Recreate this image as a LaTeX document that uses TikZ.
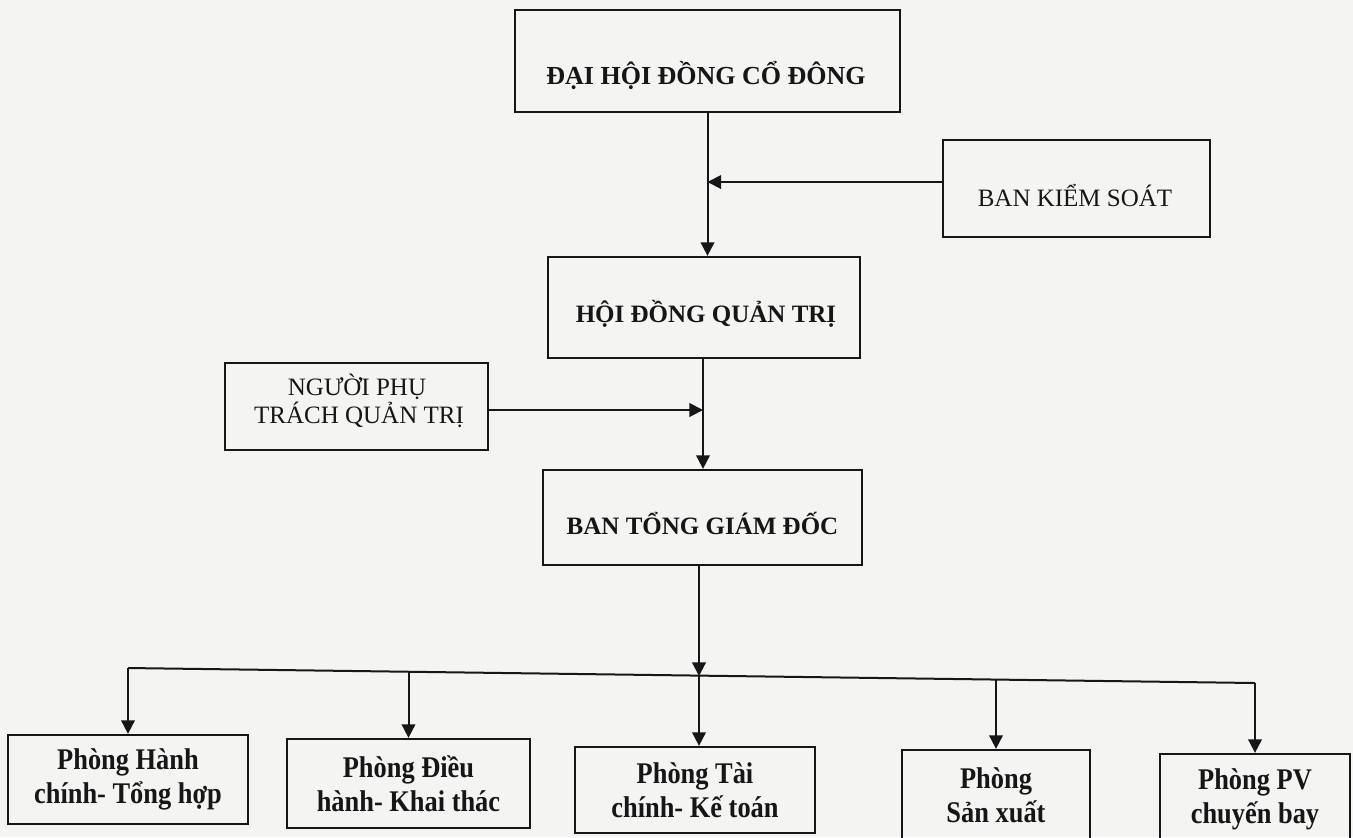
\documentclass[tikz,border=0pt]{standalone}
\usepackage{fontspec}
\setmainfont{Liberation Serif}
\newfontfamily\condserif[FakeStretch=0.88]{Liberation Serif}
\usetikzlibrary{arrows.meta}
\definecolor{paper}{RGB}{244,244,242}
\definecolor{ink}{RGB}{22,22,22}
\begin{document}
\begin{tikzpicture}[x=0.5pt,y=-0.5pt,
  box/.style={draw=ink,line width=1.15pt,inner sep=0pt,anchor=center},
  tbold/.style={anchor=base,inner sep=0pt,text=ink,font=\fontsize{12.5}{14}\selectfont\bfseries},
  treg/.style={anchor=base,inner sep=0pt,text=ink,font=\fontsize{12.5}{14}\selectfont},
  dept/.style={box,align=center,text=ink,font=\condserif\fontsize{15}{17}\selectfont\bfseries},
  conn/.style={draw=ink,line width=1pt},
  arr/.style={conn,-{Triangle[width=6.8pt,length=6.8pt]}}]
\fill[paper] (0,0) rectangle (1353,837);
\useasboundingbox (0,0) rectangle (1353,837);

% boxes
\node[box,minimum width=192.5pt,minimum height=51pt] (dh) at (707.5,61) {};
\node[tbold,font=\fontsize{13}{15}\selectfont\bfseries] (dht) at (706,84) {ĐẠI HỘI ĐỒNG CỔ ĐÔNG};

\node[box,minimum width=133.5pt,minimum height=48.5pt] (bks) at (1076.5,188.5) {};
\node[treg] (bkst) at (1075,206) {BAN KIỂM SOÁT};

\node[box,minimum width=156pt,minimum height=50.5pt] (hd) at (704,307.5) {};
\node[tbold] (hdt) at (706,322) {HỘI ĐỒNG QUẢN TRỊ};

\node[box,minimum width=131.5pt,minimum height=43.5pt] (ng) at (356.5,406.5) {};
\node[treg] (ngt1) at (357,395) {NGƯỜI PHỤ};
\node[treg] (ngt2) at (359,423) {TRÁCH QUẢN TRỊ};

\node[box,minimum width=159.5pt,minimum height=47.5pt] (bt) at (702.5,517.5) {};
\node[tbold] (btt) at (702.5,534) {BAN TỔNG GIÁM ĐỐC};

\node[dept,minimum width=120pt,minimum height=44.5pt] (p1) at (128,779.5) {Phòng Hành\\chính- Tổng hợp};
\node[dept,minimum width=121.5pt,minimum height=44.5pt] (p2) at (408.5,783.5) {Phòng Điều\\hành- Khai thác};
\node[dept,minimum width=120pt,minimum height=43pt] (p3) at (695,790) {Phòng Tài\\chính- Kế toán};
\node[dept,minimum width=94pt,minimum height=45pt] (p4) at (996,795) {Phòng\\Sản xuất};
\node[dept,minimum width=95pt,minimum height=45pt] (p5) at (1255,799) {Phòng PV\\chuyến bay};

% junctions
\coordinate (j1) at (707.5,182);
\coordinate (j2) at (703,410);
\coordinate (b1) at (128,668);
\coordinate (b2) at (408.5,672);
\coordinate (b3) at (699,676);
\coordinate (b4) at (996,680);
\coordinate (b5) at (1255,683);

% connectors
\draw[arr] (dh.south) -- (dh.south |- hd.north);
\draw[arr] (bks.west |- j1) -- (j1);
\draw[arr] (hd.south -| j2) -- (bt.north -| j2);
\draw[arr] (ng.east |- j2) -- (j2);
\draw[arr] (bt.south -| b3) -- (b3);
\draw[conn] (b1) -- (b5);
\draw[arr] (b1) -- (p1.north);
\draw[arr] (b2) -- (p2.north);
\draw[arr] (b3) -- (b3 |- p3.north);
\draw[arr] (b4) -- (p4.north);
\draw[arr] (b5) -- (p5.north);
\end{tikzpicture}
\end{document}
